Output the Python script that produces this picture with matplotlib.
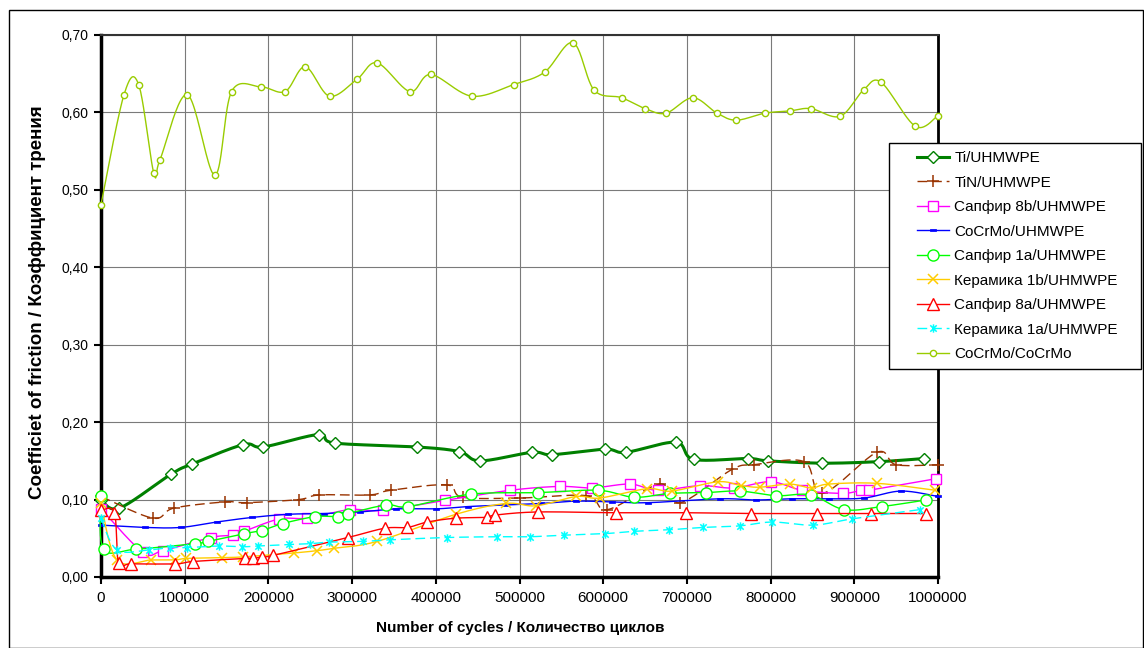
import numpy as np
import matplotlib
matplotlib.use("Agg")
import matplotlib.pyplot as plt
from matplotlib.lines import Line2D
from matplotlib.path import Path
from matplotlib.patches import Rectangle

plt.rcParams['font.family'] = ['Liberation Sans', 'DejaVu Sans']

# ---- data: number of cycles and coefficient of friction per pair ----
ti_x = [0, 22000, 84000, 109000, 170000, 194000, 260000, 279000, 377000, 428000,
        453000, 515000, 539000, 602000, 627000, 687000, 708000, 773000, 797000,
        862000, 930000, 983000]
ti_y = [0.100, 0.089, 0.133, 0.146, 0.171, 0.168, 0.184, 0.173, 0.168, 0.162,
        0.150, 0.161, 0.158, 0.165, 0.161, 0.174, 0.152, 0.153, 0.150,
        0.147, 0.149, 0.153]

tin_x = [0, 62000, 87000, 148000, 174000, 236000, 261000, 321000, 346000, 413000,
         432000, 500000, 580000, 605000, 668000, 692000, 754000, 780000, 840000,
         862000, 927000, 950000, 1000000]
tin_y = [0.104, 0.076, 0.089, 0.097, 0.096, 0.100, 0.106, 0.106, 0.112, 0.119,
         0.103, 0.102, 0.105, 0.087, 0.120, 0.096, 0.139, 0.145, 0.149,
         0.108, 0.161, 0.145, 0.145]

s8b_x = [0, 50000, 74000, 131000, 158000, 171000, 213000, 246000, 297000, 337000,
         411000, 489000, 548000, 587000, 632000, 665000, 716000, 756000, 800000,
         838000, 886000, 908000, 917000, 998000]
s8b_y = [0.088, 0.032, 0.034, 0.051, 0.054, 0.059, 0.075, 0.076, 0.087, 0.086,
         0.099, 0.112, 0.117, 0.115, 0.120, 0.112, 0.118, 0.115, 0.123,
         0.112, 0.108, 0.112, 0.112, 0.127]

cocr_x = [0, 52000, 95000, 138000, 181000, 224000, 266000, 309000, 352000, 400000,
          439000, 483000, 526000, 568000, 611000, 654000, 739000, 783000, 825000,
          870000, 912000, 956000, 1000000]
cocr_y = [0.067, 0.064, 0.064, 0.071, 0.077, 0.081, 0.082, 0.084, 0.088, 0.088,
          0.091, 0.093, 0.095, 0.098, 0.097, 0.096, 0.101, 0.0995, 0.101,
          0.101, 0.102, 0.111, 0.104]

s1a_x = [0, 3000, 42000, 112000, 128000, 171000, 192000, 217000, 256000, 283000,
         295000, 341000, 367000, 442000, 522000, 594000, 637000, 680000, 723000,
         763000, 807000, 848000, 888000, 933000, 986000]
s1a_y = [0.104, 0.036, 0.036, 0.043, 0.046, 0.056, 0.060, 0.069, 0.078, 0.078,
         0.082, 0.093, 0.091, 0.107, 0.109, 0.112, 0.103, 0.108, 0.109,
         0.111, 0.105, 0.106, 0.087, 0.091, 0.0995]

k1b_x = [0, 19000, 60000, 88000, 102000, 144000, 170000, 230000, 258000, 278000,
         330000, 424000, 484000, 520000, 568000, 596000, 652000, 682000, 737000,
         765000, 787000, 823000, 849000, 869000, 927000, 997000]
k1b_y = [0.095, 0.022, 0.022, 0.022, 0.024, 0.025, 0.026, 0.031, 0.034, 0.037,
         0.046, 0.081, 0.095, 0.092, 0.104, 0.102, 0.114, 0.111, 0.123,
         0.118, 0.116, 0.120, 0.115, 0.120, 0.121, 0.112]

s8a_x = [0, 16000, 21000, 36000, 89000, 110000, 172000, 182000, 192000, 206000,
         295000, 339000, 366000, 390000, 424000, 461000, 471000, 522000, 615000,
         699000, 776000, 855000, 920000, 986000]
s8a_y = [0.086, 0.083, 0.018, 0.017, 0.017, 0.020, 0.024, 0.024, 0.026, 0.028,
         0.051, 0.063, 0.064, 0.071, 0.076, 0.077, 0.080, 0.084, 0.083,
         0.083, 0.082, 0.082, 0.082, 0.082]

k1a_x = [0, 19000, 57000, 82000, 103000, 141000, 168000, 187000, 225000, 250000,
         272000, 313000, 345000, 413000, 473000, 512000, 553000, 602000, 637000,
         679000, 719000, 763000, 802000, 851000, 897000, 978000]
k1a_y = [0.076, 0.035, 0.035, 0.038, 0.038, 0.040, 0.039, 0.040, 0.042, 0.043,
         0.045, 0.046, 0.048, 0.051, 0.052, 0.052, 0.054, 0.056, 0.059,
         0.061, 0.064, 0.066, 0.071, 0.067, 0.075, 0.087]

cc_x = [0, 27500, 45000, 63000, 70500, 103000, 136000, 156000, 191000, 220000,
        244000, 273000, 306000, 330000, 369000, 394000, 443000, 493000, 530000,
        564000, 589000, 622000, 650000, 675000, 707000, 736000, 759000, 793000,
        823000, 848000, 883000, 911000, 932000, 973000, 1000000]
cc_y = [0.481, 0.623, 0.636, 0.522, 0.539, 0.623, 0.519, 0.627, 0.633, 0.627,
        0.659, 0.621, 0.643, 0.664, 0.627, 0.649, 0.621, 0.636, 0.652,
        0.690, 0.629, 0.619, 0.605, 0.599, 0.619, 0.599, 0.590, 0.599,
        0.602, 0.605, 0.595, 0.629, 0.639, 0.582, 0.596]

labels = ['Ti/UHMWPE', 'TiN/UHMWPE', 'Сапфир 8b/UHMWPE', 'CoCrMo/UHMWPE',
          'Сапфир 1a/UHMWPE', 'Керамика 1b/UHMWPE', 'Сапфир 8a/UHMWPE',
          'Керамика 1a/UHMWPE', 'CoCrMo/CoCrMo']

x_ticks = [0, 100000, 200000, 300000, 400000, 500000, 600000, 700000, 800000,
           900000, 1000000]
x_tick_labels = ['0', '100000', '200000', '300000', '400000', '500000', '600000',
                 '700000', '800000', '900000', '1000000']
y_ticks = [0.0, 0.1, 0.2, 0.3, 0.4, 0.5, 0.6, 0.7]
y_tick_labels = ['0,00', '0,10', '0,20', '0,30', '0,40', '0,50', '0,60', '0,70']


def smooth(x, y, n=24):
    """Bezier smoothing through every point (Catmull-Rom control points)."""
    p = np.column_stack([np.asarray(x, float), np.asarray(y, float)])
    out = [p[0]]
    t = np.linspace(0, 1, n)[1:, None]
    for i in range(len(p) - 1):
        p0, p3 = p[i], p[i + 1]
        prev = p[i - 1] if i > 0 else p0
        nxt = p[i + 2] if i + 2 < len(p) else p3
        c1 = p0 + (p3 - prev) / 6.0
        c2 = p3 - (nxt - p0) / 6.0
        seg = ((1 - t) ** 3) * p0 + 3 * ((1 - t) ** 2) * t * c1 \
            + 3 * (1 - t) * t ** 2 * c2 + t ** 3 * p3
        out.extend(seg)
    out = np.array(out)
    return out[:, 0], out[:, 1]


bar_marker = Path([(-1, -0.45), (1, -0.45), (1, 0.45), (-1, 0.45), (-1, -0.45)],
                  [Path.MOVETO, Path.LINETO, Path.LINETO, Path.LINETO, Path.CLOSEPOLY])
star_marker = Path([(-1, -1), (1, 1), (-1, 1), (1, -1), (0, -1.3), (0, 1.3)],
                   [Path.MOVETO, Path.LINETO, Path.MOVETO, Path.LINETO,
                    Path.MOVETO, Path.LINETO])

styles = [
    dict(color='#008000', lw=2.2, ls='-', marker='D', ms=6.5, mfc='white', mew=1.0),
    dict(color='#993300', lw=1.0, ls=(0, (7, 3.5)), marker='+', ms=8, mfc='none', mew=1.1),
    dict(color='#FF00FF', lw=1.0, ls='-', marker='s', ms=7, mfc='white', mew=1.0),
    dict(color='#0000FF', lw=1.0, ls='-', marker=bar_marker, ms=4.5, mfc='#0000FF', mew=0.5),
    dict(color='#00FF00', lw=1.0, ls='-', marker='o', ms=8, mfc='white', mew=1.0),
    dict(color='#FFCC00', lw=1.0, ls='-', marker='x', ms=6.5, mfc='none', mew=1.1),
    dict(color='#FF0000', lw=1.0, ls='-', marker='^', ms=8, mfc='white', mew=1.0),
    dict(color='#00FFFF', lw=1.0, ls=(0, (7, 3.5)), marker=star_marker, ms=6, mfc='none', mew=1.1),
    dict(color='#99CC00', lw=1.0, ls='-', marker='o', ms=4.5, mfc='white', mew=1.0),
]

series = [(ti_x, ti_y), (tin_x, tin_y), (s8b_x, s8b_y), (cocr_x, cocr_y),
          (s1a_x, s1a_y), (k1b_x, k1b_y), (s8a_x, s8a_y), (k1a_x, k1a_y),
          (cc_x, cc_y)]

W, H = 1144, 648
fig = plt.figure(figsize=(W / 100, H / 100), dpi=100)
ax = fig.add_axes([101 / W, 1 - 577 / H, (938 - 101) / W, (577 - 35) / H])

handles = []
for k, ((sx, sy), st) in enumerate(zip(series, styles)):
    cx, cy = smooth(sx, sy)
    ax.plot(cx, cy, color=st['color'], lw=st['lw'], ls=st['ls'], zorder=3 + k,
            solid_capstyle='round', clip_on=False)
    ax.plot(sx, sy, ls='none', marker=st['marker'], ms=st['ms'], mec=st['color'],
            mfc=st['mfc'], mew=st['mew'], zorder=3 + k, clip_on=False)
    handles.append(Line2D([], [], color=st['color'], lw=st['lw'], ls=st['ls'],
                          marker=st['marker'], ms=st['ms'], mec=st['color'],
                          mfc=st['mfc'], mew=st['mew']))

ax.set_xlim(0, 1000000)
ax.set_ylim(0, 0.7)
ax.set_xticks(x_ticks)
ax.set_xticklabels(x_tick_labels)
ax.set_yticks(y_ticks)
ax.set_yticklabels(y_tick_labels)
ax.tick_params(axis='both', length=5, width=1.5, direction='out', colors='black')
ax.tick_params(axis='x', pad=5, labelsize=11)
ax.tick_params(axis='y', pad=4, labelsize=10)
ax.grid(True, color='#7a7a7a', lw=0.8)
ax.set_axisbelow(True)
for side, lw, col in [('left', 2.5, 'black'), ('bottom', 2.5, 'black'),
                      ('right', 2.0, 'black'), ('top', 1.5, '#333333')]:
    ax.spines[side].set_linewidth(lw)
    ax.spines[side].set_color(col)

fig.text(520 / W, 1 - 628 / H, 'Number of cycles / Количество циклов',
         ha='center', va='center', fontsize=11, fontweight='bold')
fig.text(38 / W, 1 - 302 / H, 'Coefficiet of friction / Коэффициент трения',
         ha='center', va='center', rotation=90, fontsize=13.5, fontweight='bold')

# legend frame and entries
fig.patches.append(Rectangle((889 / W, 1 - 369 / H), (1141 - 889) / W, (369 - 143) / H,
                             transform=fig.transFigure, fill=True, facecolor='white',
                             edgecolor='black', lw=1.0, zorder=20))
leg = fig.legend(handles, labels, loc='upper left', bbox_to_anchor=(917 / W, 1 - 151 / H),
                 frameon=False, borderpad=0, borderaxespad=0, handlelength=2.1,
                 handletextpad=0.35, labelspacing=0.69, fontsize=11)
leg.set_zorder(21)

# outer chart border
fig.patches.append(Rectangle((8.5 / W, 0.5 / H), (1143 - 8.5) / W, (638.5 - 0.5) / H,
                             transform=fig.transFigure, fill=False, edgecolor='black',
                             lw=1.0, zorder=0))

fig.savefig('out.png', dpi=100)
